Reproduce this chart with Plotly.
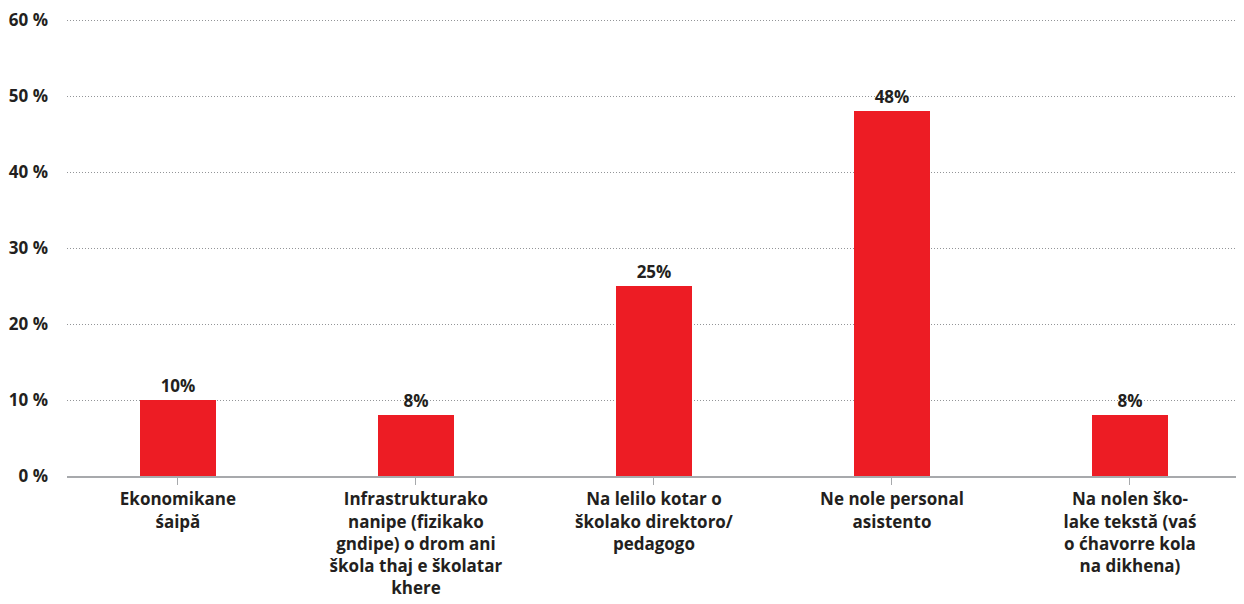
import plotly.graph_objects as go

categories = [
    "Ekonomikane<br>śaipă",
    "Infrastrukturako<br>nanipe (fizikako<br>gndipe) o drom ani<br>škola thaj e školatar<br>khere",
    "Na lelilo kotar o<br>školako direktoro/<br>pedagogo",
    "Ne nole personal<br>asistento",
    "Na nolen ško-<br>lake tekstă (vaś<br>o ćhavorre kola<br>na dikhena)",
]
values = [10, 8, 25, 48, 8]
value_labels = ["10%", "8%", "25%", "48%", "8%"]
y_ticks = [0, 10, 20, 30, 40, 50, 60]
y_tick_labels = ["0 %", "10 %", "20 %", "30 %", "40 %", "50 %", "60 %"]

FONT = "Open Sans"
TXT = "#231F20"


def bold(s):
    return "<br>".join("<b>" + p + "</b>" for p in s.split("<br>"))


fig = go.Figure(
    go.Bar(
        x=list(range(len(categories))),
        y=values,
        width=0.32,
        marker=dict(color="#ED1C24", line=dict(width=0)),
        text=[bold(v) for v in value_labels],
        textposition="outside",
        cliponaxis=False,
        textfont=dict(family=FONT, size=17, color=TXT),
    )
)

# the page body adds an 8px offset, so margins compensate for it
fig.update_layout(
    width=1236,
    height=596,
    margin=dict(l=59, r=0, t=10, b=128, autoexpand=False),
    paper_bgcolor="white",
    plot_bgcolor="white",
    showlegend=False,
    bargap=0,
    font=dict(family=FONT, size=17, color=TXT),
)

fig.update_xaxes(
    tickmode="array",
    tickvals=list(range(len(categories))),
    ticktext=[bold(c) for c in categories],
    range=[-0.466, 4.479],
    tickson="boundaries",
    ticks="outside",
    ticklen=7,
    tickcolor="#A7A9AC",
    showline=True,
    linecolor="#A7A9AC",
    linewidth=2,
    showgrid=False,
    tickangle=0,
    automargin=False,
    ticklabeloverflow="allow",
    tickfont=dict(family=FONT, size=17, color=TXT),
)

fig.update_yaxes(
    range=[0, 60.263],
    tickmode="array",
    tickvals=y_ticks,
    ticktext=[bold(t) for t in y_tick_labels],
    showgrid=True,
    gridcolor="#939598",
    griddash="1px,2px",
    gridwidth=1,
    zeroline=False,
    showline=False,
    ticks="",
    automargin=False,
    ticklabeloverflow="allow",
    ticklabelstandoff=18,
    tickfont=dict(family=FONT, size=17, color=TXT),
)

fig.write_html("out.html")
